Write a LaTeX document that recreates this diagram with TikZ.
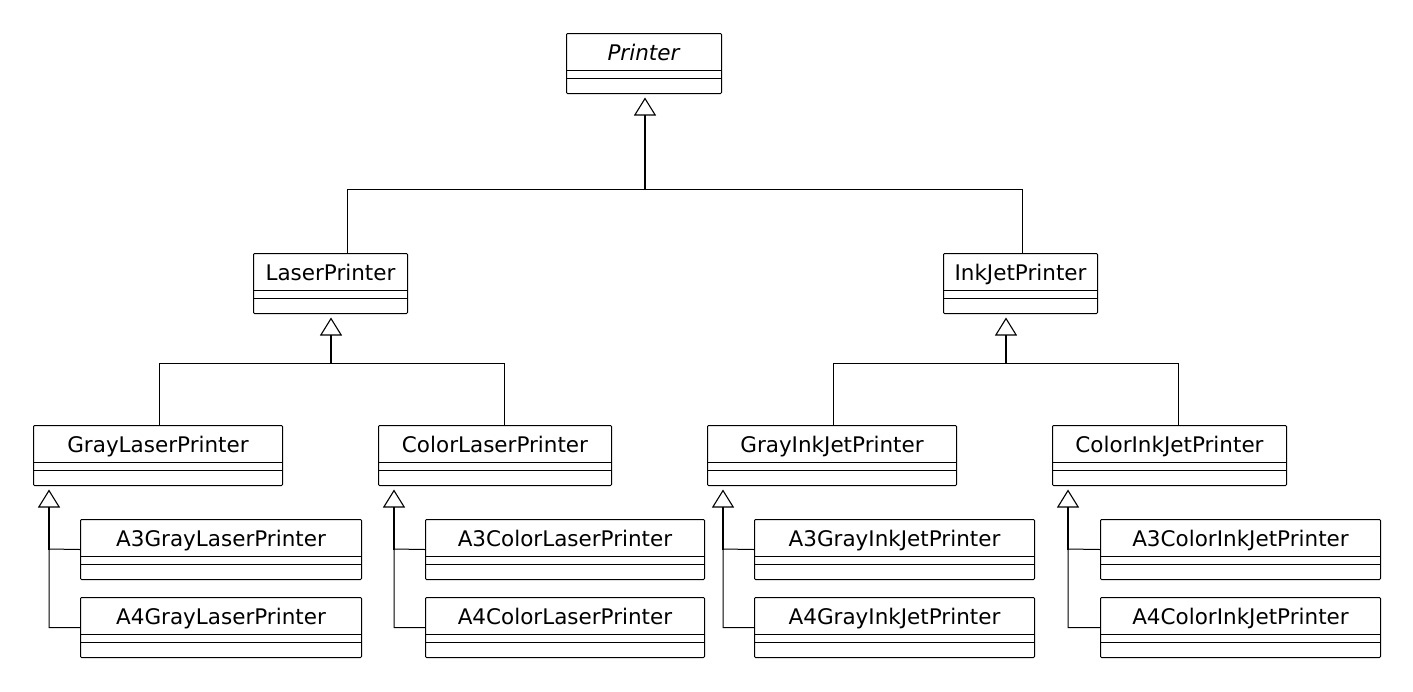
\documentclass[tikz,border=0pt]{standalone}
\usepackage{fontspec}
\setmainfont{DejaVu Sans}
\usetikzlibrary{arrows.meta,calc}
\tikzset{
  clsbox/.style={draw, line width=1pt, rounded corners=1pt, inner sep=0pt, minimum height=60pt, anchor=north west},
  clsname/.style={anchor=base, inner sep=0pt, font=\fontsize{21.5}{26}\selectfont},
  clsline/.style={line width=1pt},
  conn/.style={line width=1pt, line cap=rect},
  inh/.style={line width=1.3pt, line cap=rect, -{Triangle[open, width=22pt, length=18pt, line width=1.1pt]}, shorten >=3.5pt},
}
\newcommand\umlcls[5]{%
  \node[clsbox, minimum width=#4pt] (#1) at (#2,#3) {};
  \node[clsname] (#1-name) at ([yshift=-27.5pt]#1.north) {#5};
  \draw[clsline] ([yshift=-37pt]#1.north west) -- ([yshift=-37pt]#1.north east);
  \draw[clsline] ([yshift=-45pt]#1.north west) -- ([yshift=-45pt]#1.north east);
}
\begin{document}
\begin{tikzpicture}[x=1pt,y=-1pt]
\useasboundingbox (0,0) rectangle (1413,691);
% classes
\umlcls{P}{566}{33}{155}{\textit{Printer}}
\umlcls{LP}{253}{253}{154}{LaserPrinter}
\umlcls{IP}{943}{253}{154}{InkJetPrinter}
\umlcls{GLP}{33}{425}{249}{GrayLaserPrinter}
\umlcls{CLP}{378}{425}{233}{ColorLaserPrinter}
\umlcls{GIP}{707}{425}{249}{GrayInkJetPrinter}
\umlcls{CIP}{1052}{425}{234}{ColorInkJetPrinter}
\umlcls{AGL3}{80}{519}{281}{A3GrayLaserPrinter}
\umlcls{AGL4}{80}{597}{281}{A4GrayLaserPrinter}
\umlcls{ACL3}{425}{519}{279}{A3ColorLaserPrinter}
\umlcls{ACL4}{425}{597}{279}{A4ColorLaserPrinter}
\umlcls{AGI3}{754}{519}{280}{A3GrayInkJetPrinter}
\umlcls{AGI4}{754}{597}{280}{A4GrayInkJetPrinter}
\umlcls{ACI3}{1100}{519}{280}{A3ColorInkJetPrinter}
\umlcls{ACI4}{1100}{597}{280}{A4ColorInkJetPrinter}
% junctions
\coordinate (jP) at (645,189);
\coordinate (jLP) at (331,363);
\coordinate (jIP) at (1006,363);
\coordinate (jGLP) at (49,549);
\coordinate (jCLP) at (394,549);
\coordinate (jGIP) at (723,549);
\coordinate (jCIP) at (1068,549);
% Printer
\draw[inh] (jP) -- (jP |- P.south);
\draw[conn] ([xshift=94pt]LP.north west) |- (jP);
\draw[conn] ([xshift=79pt]IP.north west) |- (jP);
% LaserPrinter
\draw[inh] (jLP) -- (jLP |- LP.south);
\draw[conn] ([xshift=126pt]GLP.north west) |- (jLP);
\draw[conn] ([xshift=126pt]CLP.north west) |- (jLP);
% InkJetPrinter
\draw[inh] (jIP) -- (jIP |- IP.south);
\draw[conn] ([xshift=126pt]GIP.north west) |- (jIP);
\draw[conn] ([xshift=126pt]CIP.north west) |- (jIP);
% leaves
\draw[inh] (jGLP) -- (jGLP |- GLP.south);
\draw[conn] (AGL4.west) -| (jGLP) -- (AGL3.west);
\draw[inh] (jCLP) -- (jCLP |- CLP.south);
\draw[conn] (ACL4.west) -| (jCLP) -- (ACL3.west);
\draw[inh] (jGIP) -- (jGIP |- GIP.south);
\draw[conn] (AGI4.west) -| (jGIP) -- (AGI3.west);
\draw[inh] (jCIP) -- (jCIP |- CIP.south);
\draw[conn] (ACI4.west) -| (jCIP) -- (ACI3.west);
\end{tikzpicture}
\end{document}
